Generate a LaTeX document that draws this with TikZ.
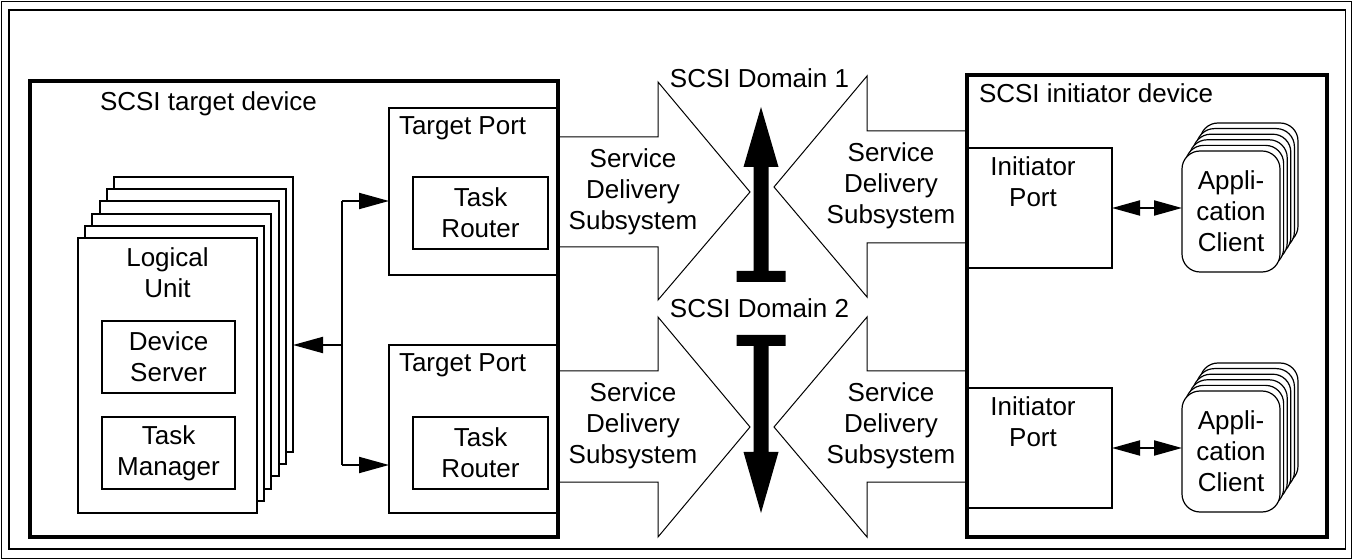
\documentclass[tikz,border=0pt]{standalone}
\usepackage{fontspec}
\setmainfont{Liberation Sans}
\usetikzlibrary{arrows.meta}
\begin{document}
\begin{tikzpicture}[x=0.5pt,y=-0.5pt,
  every node/.style={font=\fontsize{13}{15.5}\selectfont, inner sep=0pt, outer sep=0pt},
  frameline/.style={draw, line width=0.9pt},
  devbox/.style={draw, line width=1.6pt, rectangle},
  box/.style={draw, line width=1pt, fill=white, rectangle, align=center},
  lubox/.style={box, minimum width=89.5pt, minimum height=137.5pt},
  acbox/.style={draw, line width=0.6pt, fill=white, rectangle, rounded corners=9pt, minimum width=49pt, minimum height=60.5pt, align=center},
  sds/.style={line width=0.5pt},
  conn/.style={line width=1pt},
  tipa/.style={-{Triangle[length=15pt,width=8pt]}},
  tipb/.style={{Triangle[length=14pt,width=7.5pt]}-{Triangle[length=14pt,width=7.5pt]}},
  lbl/.style={align=center},
]
\useasboundingbox (0,0) rectangle (1353,560);
% frame
\draw[frameline] (1.5,1.5) rectangle (1351.5,558.5);
\draw[frameline] (9,10) rectangle (1345.5,549);

% logical unit stack
\foreach \k in {0,...,5} \node[lubox] (lu\k) at ({203.5-7.2*\k},{314.5+12.2*\k}) {};
\node[lbl] (lut) at (167.5,273) {Logical\\Unit};
\node[box, minimum width=66.5pt, minimum height=36pt] (ds) at (168.5,357) {Device\\Server};
\node[box, minimum width=66.5pt, minimum height=36pt] (tm) at (168.5,453) {Task\\Manager};

% target ports
\node[box, minimum width=84pt, minimum height=83.5pt] (tp1) at (473,191.5) {};
\node[box, minimum width=84pt, minimum height=84pt] (tp2) at (473,429) {};
\node[anchor=base west] (tp1l) at (399,135) {Target Port};
\node[anchor=base west] (tp2l) at (399,372) {Target Port};
\node[box, minimum width=67.5pt, minimum height=36pt] (tr1) at (480.5,213) {Task\\Router};
\node[box, minimum width=67.5pt, minimum height=36pt] (tr2) at (480.5,453) {Task\\Router};

% target device
\node[devbox, minimum width=264pt, minimum height=228pt] (td) at (294,309) {};
\node[anchor=base west] (tdl) at (100,111) {SCSI target device};

% connectors in target device
\coordinate (j) at (342,345);
\coordinate (ja) at (342,201);
\coordinate (jb) at (342,465);
\draw[conn,tipa] (j) -- (j -| lu0.east);
\draw[conn] (ja) -- (jb);
\draw[conn,tipa] (ja) -- (ja -| tp1.west);
\draw[conn,tipa] (jb) -- (jb -| tp2.west);

% service delivery subsystem shapes
\draw[sds] (558,137) -- (658,137) -- (658,82) -- (750,192) -- (658,300) -- (658,247) -- (558,247);
\draw[sds] (558,371) -- (658,371) -- (658,317) -- (750,427) -- (658,537) -- (658,482) -- (558,482);
\draw[sds] (967,131) -- (867,131) -- (867,76) -- (774,187) -- (867,297) -- (867,243) -- (967,243);
\draw[sds] (967,371) -- (867,371) -- (867,317) -- (774,427) -- (867,537) -- (867,482) -- (967,482);
\node[lbl] (sdsa) at (633,192) {Service\\Delivery\\Subsystem};
\node[lbl] (sdsb) at (633,426) {Service\\Delivery\\Subsystem};
\node[lbl] (sdsc) at (891,186) {Service\\Delivery\\Subsystem};
\node[lbl] (sdsd) at (891,426) {Service\\Delivery\\Subsystem};

% domain arrows
\fill (753.5,167) -- (743.5,167) -- (761,107) -- (778.5,167) -- (768.5,167) -- (768.5,271) -- (785.5,271) -- (785.5,282) -- (736.5,282) -- (736.5,271) -- (753.5,271) -- cycle;
\fill (753.5,452) -- (743.5,452) -- (761,513) -- (778.5,452) -- (768.5,452) -- (768.5,346) -- (785.5,346) -- (785.5,335) -- (736.5,335) -- (736.5,346) -- (753.5,346) -- cycle;
\node[anchor=base] (dom1) at (759.5,88) {SCSI Domain 1};
\node[anchor=base] (dom2) at (759.5,318) {SCSI Domain 2};

% initiator ports
\node[box, minimum width=72.5pt, minimum height=60pt] (ip1) at (1039.5,208) {};
\node[box, minimum width=72.5pt, minimum height=60pt] (ip2) at (1039.5,448) {};
\node[lbl] (ip1l) at (1033,182) {Initiator\\Port};
\node[lbl] (ip2l) at (1033,422) {Initiator\\Port};

% application clients
\foreach \k in {5,4,...,1} \node[acbox] (aca\k) at ({1231+3.6*\k},{211.5-5.6*\k}) {};
\node[acbox] (aca0) at (1231,211.5) {Appli-\\cation\\Client};
\foreach \k in {5,4,...,1} \node[acbox] (acb\k) at ({1231+3.6*\k},{451.5-5.6*\k}) {};
\node[acbox] (acb0) at (1231,451.5) {Appli-\\cation\\Client};

\draw[conn,tipb] (ip1.east) -- (ip1.east -| aca0.west);
\draw[conn,tipb] (ip2.east) -- (ip2.east -| acb0.west);

% initiator device
\node[devbox, minimum width=180pt, minimum height=231pt] (id) at (1147,306) {};
\node[anchor=base west] (idl) at (979,103) {SCSI initiator device};
\end{tikzpicture}
\end{document}
